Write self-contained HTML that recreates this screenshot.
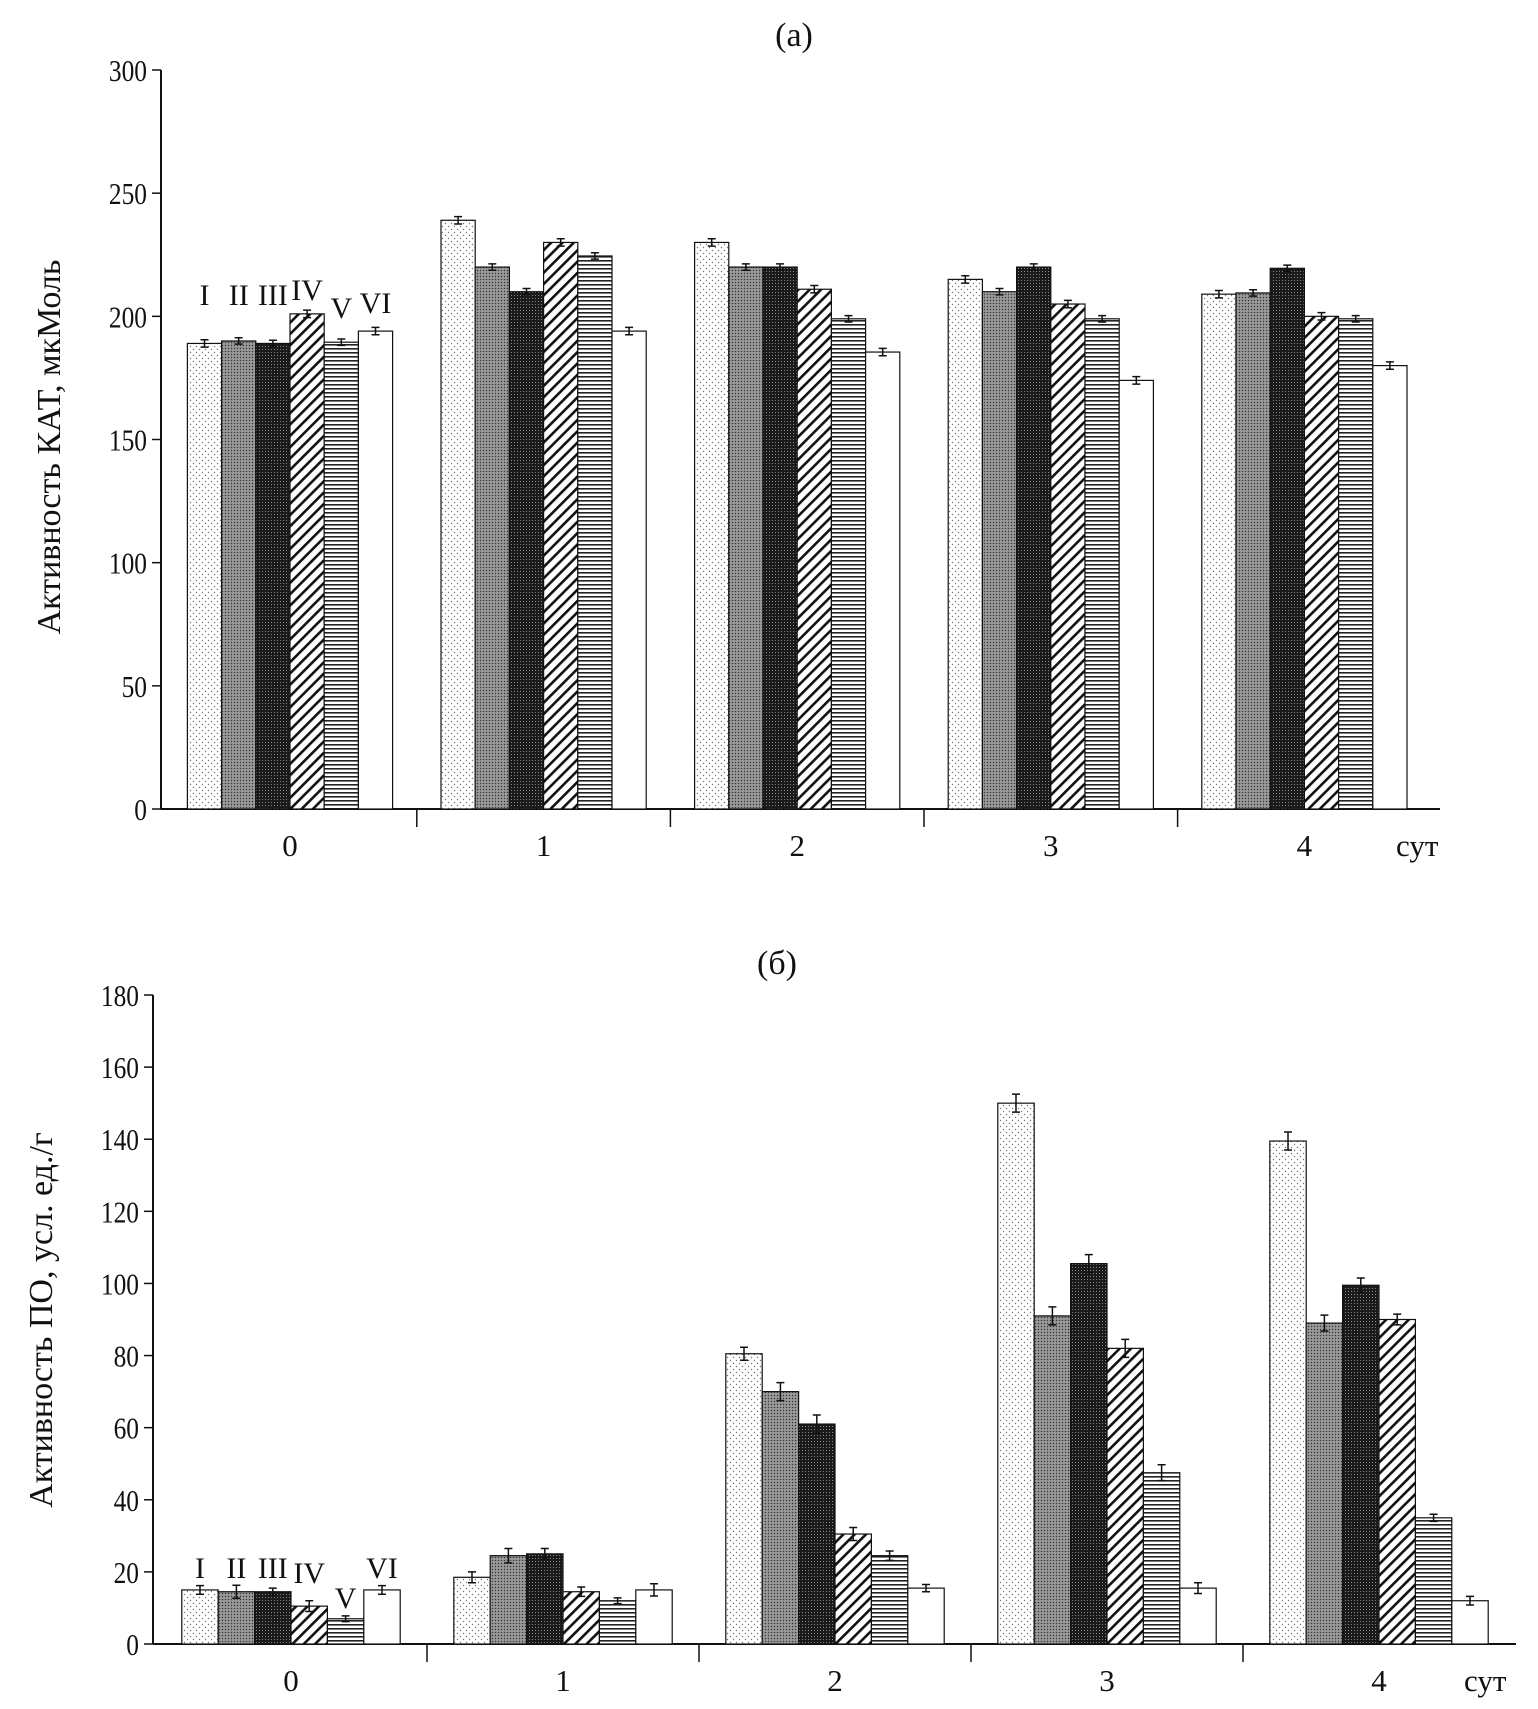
<!DOCTYPE html>
<html><head><meta charset="utf-8"><style>
html,body{margin:0;padding:0;background:#fff}
svg{display:block}
text{font-family:"Liberation Serif","Noto Serif CJK SC",serif;fill:#111}
</style></head><body>
<svg id="svg" width="1538" height="1709" viewBox="0 0 1538 1709" xmlns="http://www.w3.org/2000/svg">
<defs>
<pattern id="p1" width="6" height="6" patternUnits="userSpaceOnUse"><rect width="6" height="6" fill="#fff"/><circle cx="1.5" cy="1.5" r="0.7" fill="#777"/><circle cx="4.5" cy="4.5" r="0.7" fill="#777"/></pattern>
<pattern id="p2" width="3" height="3" patternUnits="userSpaceOnUse"><rect width="3" height="3" fill="#8a8a8a"/><rect width="1" height="1" fill="#333"/><rect x="1.5" y="1.5" width="1" height="1" fill="#ccc"/></pattern>
<pattern id="p3" width="3" height="3" patternUnits="userSpaceOnUse"><rect width="3" height="3" fill="#1a1a1a"/><rect x="1" y="1" width="1" height="1" fill="#888"/></pattern>
<pattern id="p4" width="8" height="8" patternUnits="userSpaceOnUse" patternTransform="rotate(45)"><rect width="8" height="8" fill="#fff"/><rect width="2.6" height="8" fill="#111"/></pattern>
<pattern id="p5" width="4" height="4" patternUnits="userSpaceOnUse"><rect width="4" height="4" fill="#fff"/><rect width="4" height="1.6" fill="#222"/></pattern>
<pattern id="p6" width="4" height="4" patternUnits="userSpaceOnUse"><rect width="4" height="4" fill="#fff"/></pattern>
</defs>
<g id="ga"></g>
<g id="gb"></g>
</svg>
<script>
const days = ["0","1","2","3","4"];
const seriesNames = ["I","II","III","IV","V","VI"];
const catA0 = [189,190,189,201,189.5,194];
const catA1 = [239,220,210,230,224.5,194];
const catA2 = [230,220,220,211,199,185.5];
const catA3 = [215,210,220,205,199,174];
const catA4 = [209,209.5,219.5,200,199,180];
const errA = [1.5,1.3,1.3,1.5,1.3,1.5];
const poB0 = [15,14.5,14.5,10.5,7,15];
const poB1 = [18.5,24.5,25,14.5,12,15];
const poB2 = [80.5,70,61,30.5,24.5,15.5];
const poB3 = [150,91,105.5,82,47.5,15.5];
const poB4 = [139.5,89,99.5,90,35,12];
const errB0 = [1.2,1.8,1,1.5,0.8,1.2];
const errB1 = [1.5,2,1.5,1.3,0.8,1.7];
const errB2 = [1.8,2.5,2.5,1.8,1.3,1];
const errB3 = [2.5,2.5,2.5,2.5,2.2,1.5];
const errB4 = [2.5,2.2,2,1.5,1,1.2];
const ticksA = [0,50,100,150,200,250,300];
const ticksB = [0,20,40,60,80,100,120,140,160,180];

const NS="http://www.w3.org/2000/svg";
function mk(parent,tag,attrs,txt){const e=document.createElementNS(NS,tag);for(const k in attrs)e.setAttribute(k,attrs[k]);if(txt!==undefined)e.textContent=txt;parent.appendChild(e);return e;}

function drawChart(g,cfg){
  const y=v=>cfg.y0-(v-cfg.vmin)/(cfg.vmax-cfg.vmin)*(cfg.y0-cfg.yTop);
  const gx=i=>cfg.c0+cfg.step*i;
  let e=mk(g,'line',{x1:cfg.ax,y1:cfg.yTop,x2:cfg.ax,y2:cfg.y0,stroke:'#111','stroke-width':2});
  
  
  cfg.ticks.forEach(t=>{
    let l=mk(g,'line',{x1:cfg.ax-9,y1:y(t),x2:cfg.ax,y2:y(t),stroke:'#111','stroke-width':1.5});
    
    
    let tx=mk(g,'text',{x:cfg.ax-14,y:y(t)+11,'text-anchor':'end','font-size':31,transform:`translate(${cfg.ax-14},0) scale(0.82,1) translate(${-(cfg.ax-14)},0)`},String(t));
    
    
  });
  e=mk(g,'line',{x1:cfg.ax,y1:cfg.y0,x2:cfg.xEnd,y2:cfg.y0,stroke:'#111','stroke-width':2});
  
  
  for(let i=1;i<days.length;i++){
    const sx=(gx(i-1)+gx(i))/2;
    let l=mk(g,'line',{x1:sx,y1:cfg.y0,x2:sx,y2:cfg.y0+18,stroke:'#111','stroke-width':1.5});
    
    
  }
  days.forEach((d,i)=>{
    let t=mk(g,'text',{x:gx(i),y:cfg.y0+47,'text-anchor':'middle','font-size':31},d);
    
    
  });
  let u=mk(g,'text',{x:cfg.sutX,y:cfg.y0+47,'font-size':31},'сут');
  
  
  cfg.data.forEach((vals,i)=>{
    vals.forEach((v,j)=>{
      const x=gx(i)-3*cfg.bw+j*cfg.bw;
      let r=mk(g,'rect',{x:x,y:y(v),width:cfg.bw,height:cfg.y0-y(v),fill:`url(#p${j+1})`,stroke:'#111','stroke-width':1.2});
      
      
      const er=cfg.err[i][j], cx=x+cfg.bw/2;
      let p=mk(g,'path',{d:`M${cx},${y(v+er)}V${y(v-er)}M${cx-4},${y(v+er)}h8M${cx-4},${y(v-er)}h8`,stroke:'#111','stroke-width':1.5,fill:'none'});
      
      
      if(i===0){
        let lb=mk(g,'text',{x:cx,y:cfg.lblY[j],'text-anchor':'middle','font-size':30},seriesNames[j]);
        
        
      }
    });
  });
  let yt=mk(g,'text',{x:0,y:0,'text-anchor':'middle','font-size':34,transform:`translate(${cfg.titleX},${cfg.titleY}) rotate(-90)`},cfg.yTitle);
  
  
  let pt=mk(g,'text',{x:cfg.panelX,y:cfg.panelY,'text-anchor':'middle','font-size':34},cfg.panel);
  
  
}

drawChart(document.getElementById('ga'),{
  ax:161,yTop:70,y0:809,vmin:0,vmax:300,xEnd:1440,c0:290,step:253.6,bw:34.2,
  ticks:ticksA,data:[catA0,catA1,catA2,catA3,catA4],err:[errA,errA,errA,errA,errA],
  lblY:[305,305,305,300,318,313],sutX:1396,yTitle:'Активность КАТ, мкМоль',titleX:60,titleY:447,
  panel:'(a)',panelX:794,panelY:46
});
drawChart(document.getElementById('gb'),{
  ax:153,yTop:995,vmin:0,vmax:180,y0:1644,xEnd:1516,c0:291,step:272,bw:36.4,
  ticks:ticksB,data:[poB0,poB1,poB2,poB3,poB4],err:[errB0,errB1,errB2,errB3,errB4],
  lblY:[1578,1578,1578,1583,1608,1578],sutX:1464,yTitle:'Активность ПО, усл. ед./г',titleX:52,titleY:1320,
  panel:'(б)',panelX:777,panelY:974
});
</script>
</body></html>
